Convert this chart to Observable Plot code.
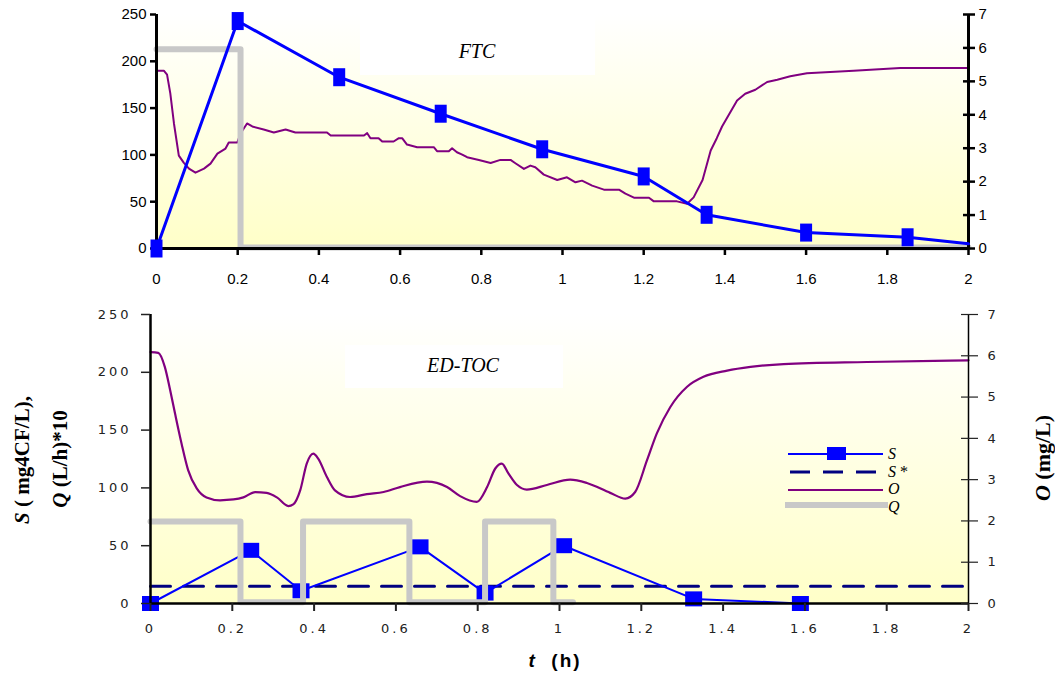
<!DOCTYPE html>
<html><head><meta charset="utf-8">
<script src="https://cdn.jsdelivr.net/npm/d3@7"></script>
<script src="https://cdn.jsdelivr.net/npm/@observablehq/plot@0.6"></script>
<style>
body{margin:0;background:#fff;}
#chart{position:relative;width:1055px;height:679px;overflow:hidden;background:#fff;}
#chart > svg{position:absolute;left:0;}
</style></head><body><div id="chart"></div>
<script>
// ---------- DATA ----------
const xTicks = [0,0.2,0.4,0.6,0.8,1,1.2,1.4,1.6,1.8,2];
const leftTicks = [0,50,100,150,200,250];
const rightTicks = [0,1,2,3,4,5,6,7];

// FTC panel
const ftcSTime = [0,0.2,0.45,0.7,0.95,1.2,1.355,1.6,1.85,2.0];
const ftcS     = [0,243,183,144,106,77,36,17,12,5];
const ftcQTime = [0,0.207,0.207,2];
const ftcQ     = [213,213,1,1];
const ftcOTime = [0,0.018,0.026,0.034,0.043,0.055,0.067,0.08,0.096,0.117,0.133,0.15,0.17,0.178,0.199,0.207,0.223,0.236,0.264,0.289,0.318,0.342,0.42,0.429,0.511,0.519,0.527,0.547,0.556,0.584,0.597,0.605,0.617,0.642,0.683,0.691,0.72,0.728,0.74,0.753,0.765,0.794,0.823,0.847,0.872,0.884,0.905,0.921,0.933,0.954,0.987,1.011,1.032,1.048,1.073,1.102,1.139,1.155,1.176,1.213,1.225,1.282,1.307,1.323,1.345,1.365,1.38,1.393,1.43,1.45,1.475,1.504,1.529,1.561,1.602,1.717,1.832,2.0];
const ftcO     = [5.32,5.32,5.2,4.64,3.74,2.78,2.57,2.39,2.27,2.39,2.54,2.84,2.99,3.17,3.17,3.44,3.74,3.65,3.56,3.47,3.56,3.47,3.47,3.38,3.38,3.45,3.3,3.3,3.2,3.2,3.3,3.3,3.11,3.03,3.03,2.91,2.91,3.0,2.88,2.81,2.73,2.65,2.56,2.65,2.65,2.55,2.38,2.48,2.43,2.21,2.05,2.13,1.98,2.03,1.88,1.76,1.76,1.64,1.52,1.52,1.41,1.41,1.34,1.53,2.05,2.93,3.3,3.65,4.43,4.63,4.75,4.98,5.05,5.15,5.24,5.32,5.4,5.4];

// ED-TOC panel
const edSTime = [0,0.245,0.368,0.659,0.818,1.01,1.328,1.589];
const edS     = [0,46,11,49,9,50,4,0];
const edSstarTime = [0,2];
const edSstar = [15,15];
const edQTime = [0,0.22,0.22,0.373,0.373,0.633,0.633,0.818,0.818,0.985,0.985,1.033];
const edQ     = [71,71,1,1,71,71,1,1,71,71,1,1];
const edOTime = [0,0.019,0.035,0.048,0.06,0.076,0.092,0.113,0.137,0.17,0.203,0.227,0.256,0.284,0.309,0.337,0.349,0.366,0.382,0.398,0.41,0.431,0.451,0.488,0.529,0.57,0.61,0.676,0.725,0.757,0.798,0.823,0.843,0.859,0.875,0.896,0.92,0.969,1.026,1.067,1.124,1.161,1.185,1.214,1.238,1.271,1.312,1.352,1.41,1.467,1.548,1.752,2.0];
const edO     = [6.09,6.07,5.73,5.17,4.6,3.87,3.23,2.79,2.57,2.5,2.52,2.57,2.7,2.68,2.57,2.36,2.4,2.74,3.39,3.63,3.51,3.07,2.74,2.58,2.65,2.7,2.82,2.95,2.82,2.6,2.46,2.82,3.27,3.39,3.15,2.87,2.76,2.87,3.0,2.92,2.68,2.54,2.7,3.47,4.12,4.76,5.25,5.49,5.64,5.73,5.8,5.85,5.89];

// ---------- HELPERS ----------
const zip = (ts, vs) => ts.map((t,i) => ({t, v: vs[i]}));
const O2L = 250/7; // right axis (O, mg/L) -> left axis units
const rectSym = (w,h) => ({draw(ctx){ ctx.rect(-w/2,-h/2,w,h); }});
const fmtX = d => String(+(+d).toFixed(1));

function gradientBg(id) {
  return (index, scales, values, dims) => {
    const g = d3.create("svg:g");
    const lg = g.append("defs").append("linearGradient").attr("id", id)
      .attr("x1",0).attr("y1",0).attr("x2",0).attr("y2",1);
    lg.append("stop").attr("offset","0%").attr("stop-color","#ffffff");
    lg.append("stop").attr("offset","100%").attr("stop-color","#ffffc8");
    g.append("rect")
      .attr("x", dims.marginLeft).attr("y", dims.marginTop)
      .attr("width", dims.width - dims.marginLeft - dims.marginRight)
      .attr("height", dims.height - dims.marginTop - dims.marginBottom)
      .attr("fill", `url(#${id})`);
    return g.node();
  };
}

const W = 1055;
const chart = document.getElementById("chart");
const narrow = "'Liberation Sans Narrow', 'Arial Narrow', 'Liberation Sans', Arial, sans-serif";

// ---------- TOP PANEL (FTC) ----------
const sTop = zip(ftcSTime, ftcS);
const topPlot = Plot.plot({
  width: W, height: 300,
  marginLeft: 156, marginRight: 87, marginTop: 14, marginBottom: 52,
  x: {domain: [0,2]},
  y: {domain: [0,250]},
  style: {background: "transparent", overflow: "visible", fontFamily: narrow, fontSize: "15px", color: "#000"},
  marks: [
    gradientBg("gradTop"),
    Plot.line(zip(ftcOTime, ftcO), {x: "t", y: d => d.v * O2L, stroke: "#800080", strokeWidth: 2}),
    Plot.line(zip(ftcQTime, ftcQ), {x: "t", y: "v", stroke: "#c8c8c8", strokeWidth: 6}),
    Plot.ruleY([0], {stroke: "#000", strokeWidth: 3}),
    Plot.ruleX([0], {stroke: "#000", strokeWidth: 3}),
    Plot.ruleX([2], {stroke: "#000", strokeWidth: 3}),
    Plot.axisY({anchor: "left", ticks: leftTicks, tickSize: 6, tickPadding: 4, strokeWidth: 2.5, label: null, tickFormat: d => String(d)}),
    Plot.axisX({anchor: "bottom", ticks: xTicks, tickSize: 7, tickPadding: 18, strokeWidth: 2.5, label: null, tickFormat: fmtX}),
    Plot.axisY({anchor: "right", ticks: rightTicks.map(v => v * O2L), tickSize: 12, dx: -6, strokeWidth: 2.5, text: null, label: null}),
    Plot.axisY({anchor: "right", ticks: rightTicks.map(v => v * O2L), tickSize: 0, tickPadding: 10, label: null, tickFormat: d => String(Math.round(d / O2L))}),
    Plot.line(sTop, {x: "t", y: "v", stroke: "#0000ff", strokeWidth: 3}),
    Plot.dot(sTop.filter(d => d.t < 2), {x: "t", y: "v", symbol: rectSym(12,18), fill: "#0000ff", r: 6})
  ]
});
topPlot.style.top = "0px";
chart.appendChild(topPlot);

// ---------- BOTTOM PANEL (ED-TOC) ----------
const sBot = zip(edSTime, edS);
const botPlot = Plot.plot({
  width: W, height: 379,
  marginLeft: 150, marginRight: 87, marginTop: 14, marginBottom: 76,
  x: {domain: [0,2]},
  y: {domain: [0,250]},
  style: {background: "transparent", overflow: "visible", fontFamily: "'DejaVu Sans', Verdana, sans-serif", fontSize: "13px", color: "#222", letterSpacing: "3px"},
  marks: [
    gradientBg("gradBot"),
    Plot.line(zip(edOTime, edO), {x: "t", y: d => d.v * O2L, stroke: "#800080", strokeWidth: 2.2, curve: "monotone-x"}),
    Plot.line(zip(edSstarTime, edSstar), {x: "t", y: "v", stroke: "#000080", strokeWidth: 3, strokeDasharray: "20,13"}),
    Plot.line(sBot, {x: "t", y: "v", stroke: "#0000ff", strokeWidth: 2}),
    Plot.dot(sBot, {x: "t", y: "v", symbol: rectSym(17,15), fill: "#0000ff", r: 6}),
    Plot.line(zip(edQTime, edQ), {x: "t", y: "v", stroke: "#c8c8c8", strokeWidth: 6}),
    Plot.ruleY([0], {stroke: "#000", strokeWidth: 2.5}),
    Plot.ruleX([0], {stroke: "#000", strokeWidth: 2.5}),
    Plot.ruleX([2], {stroke: "#000", strokeWidth: 1.5}),
    Plot.axisY({anchor: "left", ticks: leftTicks, tickSize: 9, tickPadding: 10, strokeWidth: 1.5, label: null, tickFormat: d => String(d)}),
    Plot.axisX({anchor: "bottom", ticks: xTicks, tickSize: 8, tickPadding: 12, strokeWidth: 2, label: null, tickFormat: fmtX}),
    Plot.axisY({anchor: "right", ticks: rightTicks.map(v => v * O2L), tickSize: 17, dx: -8, strokeWidth: 1.2, text: null, label: null}),
    Plot.axisY({anchor: "right", ticks: rightTicks.map(v => v * O2L), tickSize: 0, tickPadding: 19, label: null, tickFormat: d => String(Math.round(d / O2L))})
  ]
});
botPlot.style.top = "300px";
chart.appendChild(botPlot);

// ---------- OVERLAY: titles, axis labels, legend ----------
const ov = d3.select(chart).append("svg")
  .attr("width", W).attr("height", 679)
  .style("top", "0px").style("pointer-events", "none");
const serif = "'Liberation Serif', 'Times New Roman', serif";

ov.append("rect").attr("x", 360).attr("y", 15).attr("width", 235).attr("height", 60).attr("fill", "#fff");
ov.append("text").attr("x", 477).attr("y", 58).attr("text-anchor", "middle")
  .attr("font-family", serif).attr("font-style", "italic").attr("font-size", 20).text("FTC");

ov.append("rect").attr("x", 345).attr("y", 345).attr("width", 218).attr("height", 43).attr("fill", "#fff");
ov.append("text").attr("x", 463).attr("y", 372).attr("text-anchor", "middle")
  .attr("font-family", serif).attr("font-style", "italic").attr("font-size", 20).text("ED-TOC");

// left y label (two lines)
const yl1 = ov.append("text").attr("transform", "translate(29,460) rotate(-90)").attr("text-anchor", "middle")
  .attr("font-family", serif).attr("font-weight", "bold").attr("font-size", 21);
yl1.append("tspan").attr("font-style", "italic").text("S");
yl1.append("tspan").text(" ( mg4CF/L),");
const yl2 = ov.append("text").attr("transform", "translate(67,459) rotate(-90)").attr("text-anchor", "middle")
  .attr("font-family", serif).attr("font-weight", "bold").attr("font-size", 21);
yl2.append("tspan").attr("font-style", "italic").text("Q");
yl2.append("tspan").text(" (L/h)*10");

// right y label
const yr = ov.append("text").attr("transform", "translate(1050,458) rotate(-90)").attr("text-anchor", "middle")
  .attr("font-family", serif).attr("font-weight", "bold").attr("font-size", 22);
yr.append("tspan").attr("font-style", "italic").text("O");
yr.append("tspan").text(" (mg/L)");

// x label
const xl = ov.append("text").attr("x", 555).attr("y", 667).attr("text-anchor", "middle")
  .attr("font-family", narrow).attr("font-weight", "bold").attr("font-size", 19)
  .attr("letter-spacing", "2px").attr("xml:space", "preserve");
xl.append("tspan").attr("font-style", "italic").text("t");
xl.append("tspan").text("  (h)");

// legend
const lg = ov.append("g");
const lx1 = 788, lx2 = 883, ltx = 888;
lg.append("line").attr("x1", lx1).attr("x2", lx2).attr("y1", 454).attr("y2", 454).attr("stroke", "#0000ff").attr("stroke-width", 2);
lg.append("rect").attr("x", 827).attr("y", 447).attr("width", 19).attr("height", 13).attr("fill", "#0000ff");
lg.append("line").attr("x1", 790).attr("x2", 876).attr("y1", 472).attr("y2", 472).attr("stroke", "#000080").attr("stroke-width", 3).attr("stroke-dasharray", "20,13");
lg.append("line").attr("x1", lx1).attr("x2", lx2).attr("y1", 490).attr("y2", 490).attr("stroke", "#800080").attr("stroke-width", 2);
lg.append("line").attr("x1", 785).attr("x2", 888).attr("y1", 505).attr("y2", 505).attr("stroke", "#c8c8c8").attr("stroke-width", 6);
const legLabels = [["S", "", 459], ["S", " *", 477], ["O", "", 494], ["Q", "", 512]];
legLabels.forEach(([a, b, y]) => {
  const t = lg.append("text").attr("x", ltx).attr("y", y).attr("font-family", serif).attr("font-size", 16).attr("xml:space", "preserve");
  t.append("tspan").attr("font-style", "italic").text(a);
  if (b) t.append("tspan").text(b);
});
</script>
</body></html>
